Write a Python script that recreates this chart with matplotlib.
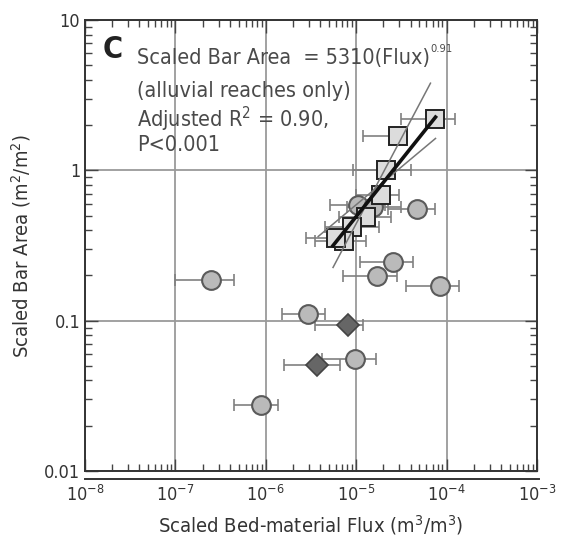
import matplotlib
matplotlib.use("Agg")
import matplotlib.pyplot as plt
from matplotlib.lines import Line2D
from matplotlib.ticker import LogLocator, NullFormatter, FixedFormatter, FixedLocator
import numpy as np

plt.rcParams['font.family'] = ['DejaVu Sans']
plt.rcParams['font.stretch'] = 'condensed'

# alluvial reaches (squares)
sq_x = [7.4e-5, 2.9e-5, 2.15e-5, 1.9e-5, 1.29e-5, 9.1e-6, 7.4e-6, 6.0e-6]
sq_y = [2.19, 1.69, 1.0, 0.69, 0.49, 0.42, 0.34, 0.357]
sq_lo = [3.1e-5, 1.2e-5, 9.3e-6, 1.0e-5, 6.5e-6, 4.5e-6, 3.5e-6, 2.8e-6]
sq_hi = [1.23e-4, 3.6e-5, 4.0e-5, 3.0e-5, 2.4e-5, 1.8e-5, 1.3e-5, 9e-6]

# other reaches (circles)
ci_x = [1.05e-5, 1.54e-5, 4.76e-5, 2.57e-5, 1.71e-5, 8.5e-5, 2.45e-7, 2.93e-6, 9.8e-6, 8.8e-7]
ci_y = [0.59, 0.57, 0.55, 0.244, 0.197, 0.169, 0.187, 0.11, 0.0558, 0.0275]
ci_lo = [5.1e-6, 8e-6, 2.27e-5, 1.1e-5, 7.2e-6, 3.6e-5, 1e-7, 1.5e-6, 4.2e-6, 4.4e-7]
ci_hi = [2.1e-5, 3.1e-5, 7.4e-5, 4.3e-5, 2.8e-5, 1.38e-4, 4.5e-7, 4.5e-6, 1.67e-5, 1.36e-6]

# diamonds
di_x = [8.2e-6, 3.7e-6]
di_y = [0.094, 0.051]
di_lo = [3.5e-6, 1.58e-6]
di_hi = [1.2e-5, 6.6e-6]

# regression line and confidence lines (end points)
fit_x = [5.55e-6, 7.55e-5]
fit_y = [0.316, 2.26]
up_x = [5.55e-6, 6.64e-5]
up_y = [0.226, 3.8]
lo_x = [3.8e-6, 7.55e-5]
lo_y = [0.363, 1.63]

fig = plt.figure(figsize=(5.64, 5.44), dpi=100)
ax = fig.add_axes([0.1507, 0.1342, 0.8013, 0.829])
ax.set_xscale('log')
ax.set_yscale('log')
ax.set_xlim(1e-8, 1e-3)
ax.set_ylim(0.01, 10)

ax.grid(True, which='major', color='#9a9a9a', lw=1.3, zorder=0)


def err(x, lo, hi):
    x = np.array(x)
    return [x - np.array(lo), np.array(hi) - x]


ebkw = dict(fmt='none', ecolor='#808080', elinewidth=1.2, capsize=4, capthick=1.2, zorder=2)
ax.errorbar(ci_x, ci_y, xerr=err(ci_x, ci_lo, ci_hi), **ebkw)
ax.errorbar(di_x, di_y, xerr=err(di_x, di_lo, di_hi), **ebkw)
ax.errorbar(sq_x, sq_y, xerr=err(sq_x, sq_lo, sq_hi), **ebkw)

ax.plot(ci_x, ci_y, 'o', ms=13.5, mfc='#bababa', mec='#5a5a5a', mew=1.5, ls='none', zorder=3)
ax.plot(di_x, di_y, 'D', ms=11, mfc='#666666', mec='#444444', mew=1.2, ls='none', zorder=3)
ax.plot(sq_x, sq_y, 's', ms=13.5, mfc='#dcdcdc', mec='#222222', mew=1.4, ls='none', zorder=4)

ax.plot(up_x, up_y, color='#777777', lw=1.1, zorder=5)
ax.plot(lo_x, lo_y, color='#777777', lw=1.1, zorder=5)
ax.plot(fit_x, fit_y, color='#111111', lw=2.6, zorder=6)

# ticks
ax.xaxis.set_major_locator(LogLocator(base=10, numticks=10))
ax.xaxis.set_minor_locator(LogLocator(base=10, subs=np.arange(2, 10), numticks=10))
ax.xaxis.set_minor_formatter(NullFormatter())
ax.yaxis.set_major_locator(FixedLocator([0.01, 0.1, 1, 10]))
ax.yaxis.set_major_formatter(FixedFormatter(['0.01', '0.1', '1', '10']))
ax.yaxis.set_minor_locator(LogLocator(base=10, subs=np.arange(2, 10), numticks=10))
ax.yaxis.set_minor_formatter(NullFormatter())
ax.tick_params(which='both', direction='in', top=True, right=True, colors='#444444',
               labelcolor='#333333', labelsize=13)
ax.tick_params(which='major', length=9, width=1.0)
ax.tick_params(which='minor', length=5, width=1.0)
ax.tick_params(axis='x', pad=10)
for s in ax.spines.values():
    s.set_color('#333333')
    s.set_linewidth(1.4)

ax.set_xlabel('Scaled Bed-material Flux (m$^3$/m$^3$)', fontsize=14.5, color='#333333', labelpad=6)
ax.set_ylabel('Scaled Bar Area (m$^2$/m$^2$)', fontsize=14.5, color='#333333', labelpad=8)

# double line below the frame
fig.add_artist(Line2D([0.1507, 0.955], [1 - 479 / 544, 1 - 479 / 544], color='#333333', lw=1.4))

# annotation
ax.text(0.04, 0.935, 'C', transform=ax.transAxes, fontsize=22, fontweight='bold',
        color='#222222', ha='left', va='center')
tkw = dict(transform=ax.transAxes, fontsize=15.5, color='#4a4a4a', ha='left', va='center')
t1 = ax.text(0.115, 0.915, 'Scaled Bar Area  = 5310(Flux)', **tkw)
ax.annotate('0.91', xy=(1.0, 0.72), xycoords=t1, xytext=(0, 0), textcoords='offset points',
            fontsize=8, color='#4a4a4a', ha='left', va='bottom')
ax.text(0.115, 0.843, '(alluvial reaches only)', **tkw)
ax.text(0.115, 0.78, 'Adjusted R$^2$ = 0.90,', **tkw)
ax.text(0.115, 0.722, 'P<0.001', **tkw)

fig.savefig('out.png', dpi=100)
